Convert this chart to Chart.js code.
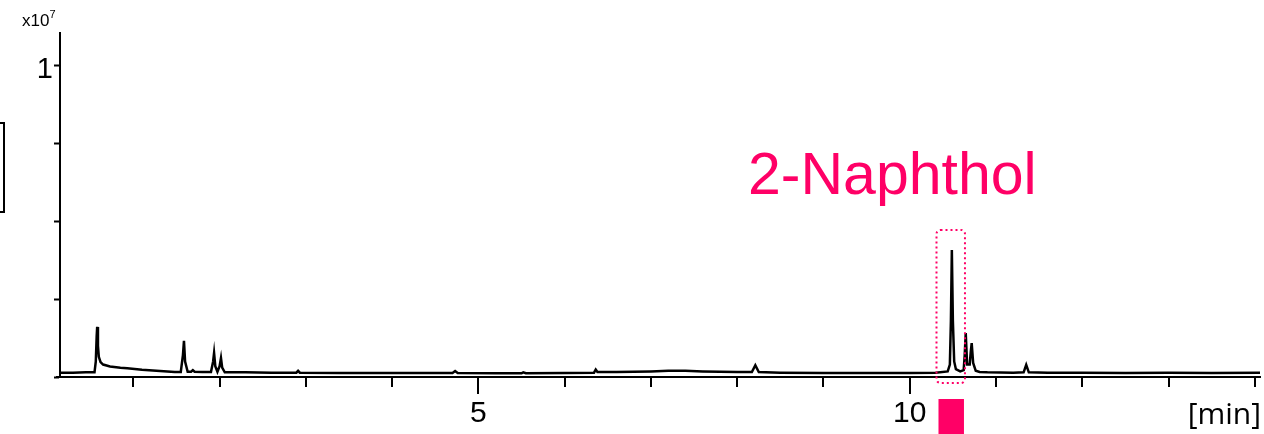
<!DOCTYPE html>
<html>
<head>
<meta charset="utf-8">
<script src="https://cdn.jsdelivr.net/npm/chart.js@4/dist/chart.umd.min.js"></script>
<style>
  html, body { margin: 0; padding: 0; background: #fff; }
  #wrap { width: 1264px; height: 434px; position: relative; }
  canvas { display: block; }
</style>
</head>
<body>
<div id="wrap"><canvas id="chrom" width="1264" height="434"></canvas></div>
<script>
// Retention time (min) and detector signal (x10^7 counts)
const retentionTime = [
  0.15, 0.30, 0.45, 0.55, 0.565, 0.575, 0.581, 0.59, 0.60, 0.62, 0.65, 0.73, 0.85, 0.93,
  1.10, 1.31, 1.48, 1.55, 1.575, 1.587, 1.60, 1.63, 1.67, 1.69, 1.71, 1.80, 1.90, 1.925,
  1.936, 1.95, 1.975, 2.00, 2.016, 2.03, 2.06, 2.30, 2.60, 2.89, 2.91, 2.93, 3.40, 4.00,
  4.50, 4.70, 4.73, 4.76, 5.20, 5.50, 5.52, 5.55, 6.00, 6.34, 6.36, 6.38, 6.60, 6.80,
  7.00, 7.20, 7.40, 7.60, 7.80, 8.00, 8.17, 8.21, 8.25, 8.50, 9.00, 9.50, 10.00, 10.30,
  10.44, 10.465, 10.477, 10.488, 10.50, 10.515, 10.535, 10.585, 10.625, 10.637, 10.649, 10.665,
  10.695, 10.707, 10.718, 10.735, 10.765, 10.81, 10.90, 11.20, 11.32, 11.35, 11.38, 11.60,
  12.00, 12.50, 13.00, 13.50, 14.06
];
const signal = [
  0.014, 0.014, 0.015, 0.015, 0.050, 0.130, 0.161, 0.100, 0.065, 0.048, 0.040, 0.034, 0.030, 0.028,
  0.023, 0.019, 0.016, 0.016, 0.070, 0.116, 0.050, 0.017, 0.017, 0.022, 0.017, 0.016, 0.016, 0.050,
  0.077, 0.035, 0.017, 0.035, 0.061, 0.030, 0.015, 0.015, 0.014, 0.014, 0.020, 0.014, 0.013, 0.013,
  0.013, 0.013, 0.019, 0.013, 0.012, 0.012, 0.015, 0.012, 0.013, 0.014, 0.024, 0.016, 0.016, 0.017,
  0.018, 0.020, 0.020, 0.018, 0.017, 0.016, 0.016, 0.038, 0.016, 0.014, 0.013, 0.013, 0.013, 0.014,
  0.018, 0.040, 0.180, 0.408, 0.180, 0.050, 0.025, 0.018, 0.022, 0.070, 0.141, 0.040,
  0.040, 0.080, 0.109, 0.045, 0.020, 0.016, 0.015, 0.014, 0.015, 0.039, 0.015, 0.014,
  0.014, 0.013, 0.014, 0.013, 0.014
];

// Axis extents and labelled ticks
const timeRange = [0.15, 14.06];
const signalRange = [0, 1.106];
const timeTickLabels = [5, 10];
const signalTickLabels = [1];
const signalExponent = '7';
const xUnitLabel = '[min]';

// Highlighted compound
const compoundName = '2-Naphthol';
const compoundWindow = [10.31, 10.64];   // retention time window (min)
const compoundBoxTop = 0.473;           // x10^7
const accent = '#ff0066';

const points = retentionTime.map((t, i) => ({ x: t, y: signal[i] }));

const decorations = {
  id: 'decorations',
  afterDraw(chart) {
    const { ctx, chartArea: a, scales: { x, y } } = chart;
    ctx.save();

    // x-axis tick marks: long at labelled minutes, short elsewhere
    ctx.strokeStyle = '#000';
    ctx.lineWidth = 2;
    for (let t = Math.ceil(timeRange[0]); t <= Math.floor(timeRange[1]); t++) {
      const px = Math.round(x.getPixelForValue(t));
      const len = timeTickLabels.includes(t) ? 17 : 10;
      ctx.beginPath();
      ctx.moveTo(px, a.bottom);
      ctx.lineTo(px, a.bottom + len);
      ctx.stroke();
    }
    // short stub of the x-axis left of the y-axis
    ctx.beginPath();
    ctx.moveTo(a.left - 4, a.bottom);
    ctx.lineTo(a.left, a.bottom);
    ctx.stroke();

    // exponent label
    ctx.fillStyle = '#000';
    ctx.textBaseline = 'alphabetic';
    ctx.textAlign = 'left';
    ctx.font = '17px "Liberation Sans", Arial, sans-serif';
    ctx.fillText('x10', 22, 26);
    const w = ctx.measureText('x10').width;
    ctx.font = '11px "Liberation Sans", Arial, sans-serif';
    ctx.fillText(signalExponent, 22 + w, 18);

    // unit label
    ctx.font = '30px "Open Sans", "DejaVu Sans", sans-serif';
    ctx.textAlign = 'right';
    ctx.fillText(xUnitLabel, 1261, 424);

    // side frame partly off canvas
    ctx.lineWidth = 2;
    ctx.strokeRect(-20, 123, 24, 89);

    // compound window
    const x0 = x.getPixelForValue(compoundWindow[0]);
    const x1 = x.getPixelForValue(compoundWindow[1]);
    const yTop = y.getPixelForValue(compoundBoxTop);
    ctx.strokeStyle = accent;
    ctx.lineWidth = 2;
    ctx.setLineDash([2, 3]);
    ctx.beginPath();
    ctx.roundRect(x0, yTop, x1 - x0, a.bottom + 6 - yTop, 4);
    ctx.stroke();
    ctx.setLineDash([]);

    // marker block under the window
    ctx.fillStyle = accent;
    ctx.fillRect(x0 + 2, 399, x1 - x0 - 3, 40);

    // compound name
    ctx.font = '59px "Liberation Sans", Arial, sans-serif';
    ctx.textAlign = 'left';
    ctx.fillText(compoundName, 748, 194);

    ctx.restore();
  }
};

new Chart(document.getElementById('chrom'), {
  type: 'line',
  data: {
    datasets: [{
      data: points,
      borderColor: '#000',
      borderWidth: 2.5,
      pointRadius: 0,
      tension: 0,
      fill: false
    }]
  },
  options: {
    responsive: false,
    animation: false,
    devicePixelRatio: 1,
    parsing: false,
    layout: { padding: { top: 33, right: 4, left: 0, bottom: 0 } },
    plugins: { legend: { display: false }, tooltip: { enabled: false } },
    scales: {
      x: {
        type: 'linear',
        min: timeRange[0],
        max: timeRange[1],
        afterFit(s) { s.height = 57; s.paddingLeft = 0; s.paddingRight = 0; },
        border: { color: '#000', width: 2 },
        grid: { drawOnChartArea: false, drawTicks: false },
        ticks: {
          stepSize: 1,
          includeBounds: false,
          autoSkip: false,
          maxRotation: 0,
          padding: 19,
          color: '#000',
          font: { family: '"Liberation Sans", Arial, sans-serif', size: 30 },
          callback: v => timeTickLabels.includes(v) ? String(v) : ''
        }
      },
      y: {
        type: 'linear',
        min: signalRange[0],
        max: signalRange[1],
        afterFit(s) { s.width = 60; s.paddingTop = 0; s.paddingBottom = 0; },
        border: { color: '#000', width: 2 },
        grid: { drawOnChartArea: false, drawTicks: true, tickLength: 6, tickWidth: 2, tickColor: '#000' },
        ticks: {
          stepSize: 0.25,
          includeBounds: false,
          padding: 1,
          labelOffset: 4,
          color: '#000',
          font: { family: '"Liberation Sans", Arial, sans-serif', size: 29 },
          callback: v => signalTickLabels.includes(v) ? String(v) : ''
        }
      }
    }
  },
  plugins: [decorations]
});
</script>
</body>
</html>
